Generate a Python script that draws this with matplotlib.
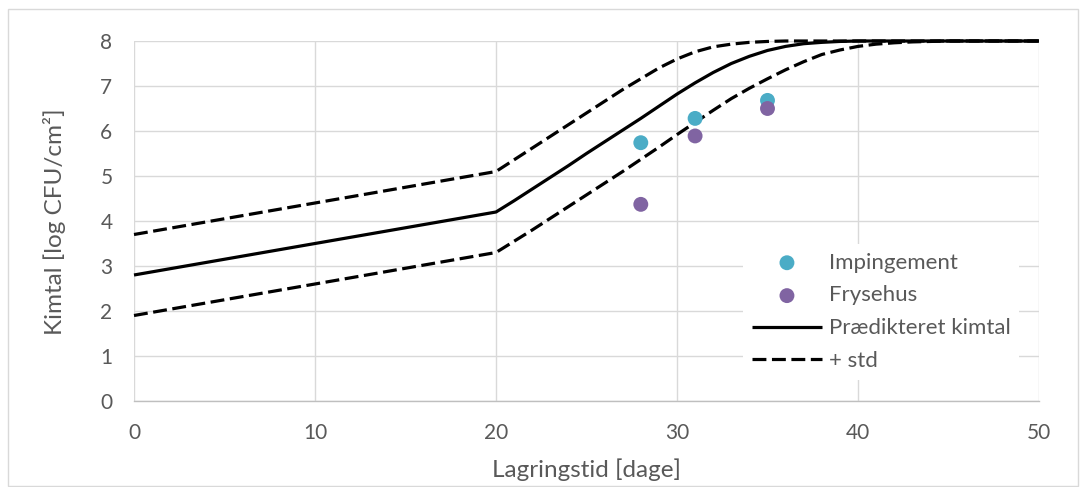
import matplotlib
matplotlib.use("Agg")
import matplotlib.pyplot as plt
from matplotlib.patches import Rectangle

# ---- data ----
days = [0, 20, 21, 22, 23, 24, 25, 26, 27, 28, 29, 30, 31, 32, 33, 34, 35,
        36, 37, 38, 39, 40, 41, 42, 43, 44, 45, 50]
predicted = [2.8, 4.2, 4.45, 4.71, 4.97, 5.23, 5.5, 5.76, 6.02, 6.28, 6.55, 6.82,
             7.07, 7.3, 7.5, 7.66, 7.79, 7.88, 7.94, 7.97, 7.99, 8.0, 8.0, 8.0,
             8.0, 8.0, 8.0, 8.0]
upper_std = [3.7, 5.1, 5.36, 5.62, 5.88, 6.14, 6.4, 6.66, 6.92, 7.16, 7.4, 7.6,
             7.76, 7.87, 7.93, 7.97, 7.99, 8.0, 8.0, 8.0, 8.0, 8.0, 8.0, 8.0,
             8.0, 8.0, 8.0, 8.0]
lower_std = [1.9, 3.3, 3.55, 3.8, 4.06, 4.32, 4.58, 4.84, 5.1, 5.37, 5.64, 5.92,
             6.19, 6.46, 6.72, 6.95, 7.16, 7.36, 7.54, 7.7, 7.8, 7.88, 7.93, 7.96,
             7.98, 7.99, 8.0, 8.0]
imp_x = [28, 31, 35]
imp_y = [5.74, 6.28, 6.68]
fry_x = [28, 31, 35]
fry_y = [4.37, 5.89, 6.5]
x_ticks = [0, 10, 20, 30, 40, 50]
y_ticks = [0, 1, 2, 3, 4, 5, 6, 7, 8]

TEXT = "#595959"
GRID = "#D9D9D9"
plt.rcParams['font.family'] = ['Lato', 'DejaVu Sans']

fig = plt.figure(figsize=(10.86, 4.87), dpi=100)
fig.patches.append(Rectangle((8/1086, 1/487), 1070/1086, 477/487, transform=fig.transFigure,
                             fill=False, edgecolor=GRID, linewidth=1.0))
ax = fig.add_axes([134/1086, 86/487, 905/1086, 360/487])

lw = 2.3
dash = [10.0/lw, 4.0/lw]
ax.scatter(imp_x, imp_y, s=115, color="#4BACC6", edgecolors='none', zorder=4, label="Impingement")
ax.scatter(fry_x, fry_y, s=115, color="#8064A2", edgecolors='none', zorder=4, label="Frysehus")
ax.plot(days, predicted, color="black", lw=lw, zorder=3, clip_on=False,
        label="Prædikteret kimtal", solid_capstyle='butt')
ax.plot(days, upper_std, color="black", lw=lw, dashes=dash, zorder=3, clip_on=False,
        label="+ std", dash_capstyle='butt')
ax.plot(days, lower_std, color="black", lw=lw, dashes=dash, zorder=3, clip_on=False,
        dash_capstyle='butt')

ax.set_xlim(0, 50)
ax.set_ylim(0, 8)
ax.set_xticks(x_ticks)
ax.set_yticks(y_ticks)
ax.grid(True, color=GRID, lw=1.0, zorder=0)
ax.set_axisbelow(True)
for s in ['top', 'right', 'left']:
    ax.spines[s].set_visible(False)
ax.spines['bottom'].set_color("#BFBFBF")
ax.spines['bottom'].set_linewidth(1.0)
ax.tick_params(length=0, labelsize=15, colors=TEXT)
ax.tick_params(axis='y', pad=15.5)
ax.tick_params(axis='x', pad=16)

ax.set_xlabel("Lagringstid [dage]", fontsize=17.5, color=TEXT, va='center')
ax.xaxis.set_label_coords(0.5, -0.19)
ax.set_ylabel("Kimtal [log CFU/cm²]", fontsize=17.5, color=TEXT, va='center')
ax.yaxis.set_label_coords(-0.088, 0.497)

leg = ax.legend(loc='upper left', bbox_to_anchor=(0.673, 0.437), fontsize=16,
                frameon=True, fancybox=False, framealpha=1, facecolor='white',
                edgecolor='none', handlelength=3.15, handletextpad=0.3,
                labelspacing=0.58, borderpad=0.4, borderaxespad=0)
for t in leg.get_texts():
    t.set_color(TEXT)

fig.savefig("out.png", dpi=100)
